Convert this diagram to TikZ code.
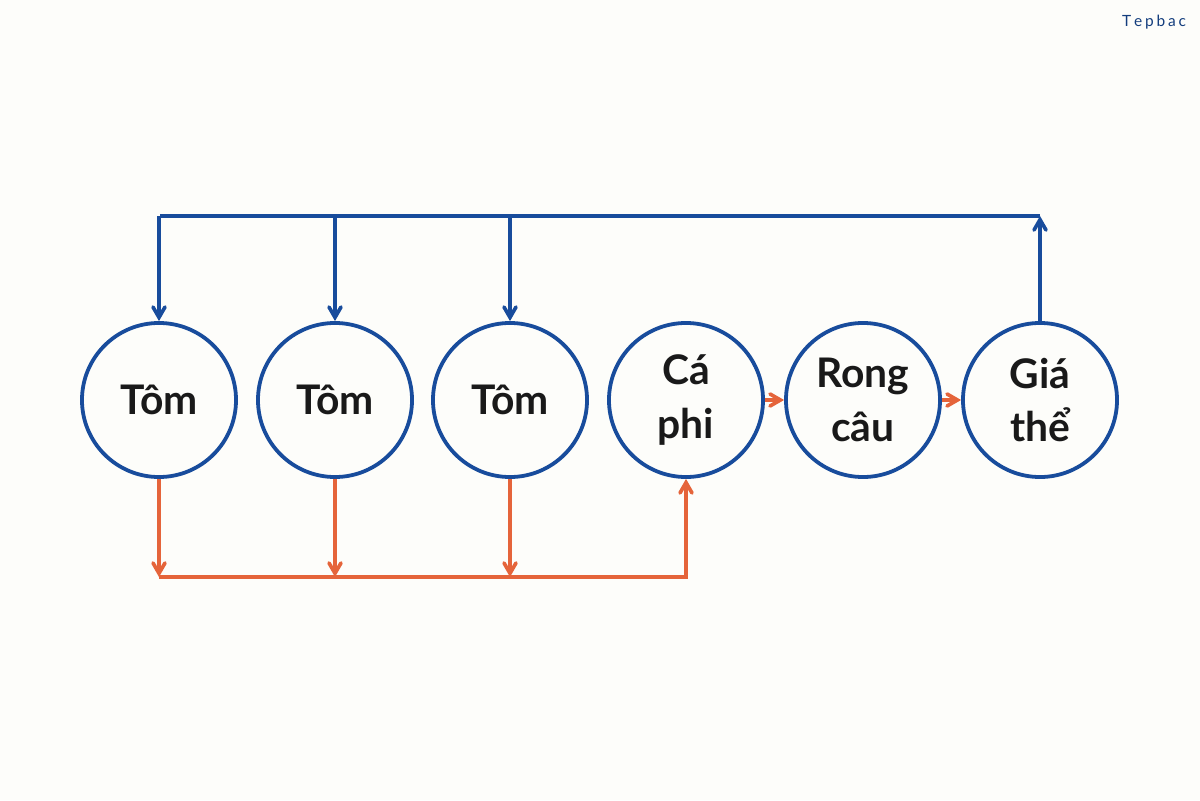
\documentclass[tikz,border=0pt]{standalone}
\usepackage{fontspec}
\setmainfont{Lato}
\usetikzlibrary{calc}
\usetikzlibrary{arrows}
\usetikzlibrary{backgrounds}

\definecolor{chainblue}{RGB}{24,76,156}
\definecolor{feedorange}{RGB}{229,100,58}
\definecolor{paper}{RGB}{253,253,250}

\tikzset{
 pond/.style={circle, draw=chainblue, line width=2.7pt, minimum size=3.85cm, inner sep=0,
   align=center, font=\bfseries\fontsize{29}{38}\selectfont, text=black!90},
 blueline/.style={chainblue, line width=2.6pt},
 orangeline/.style={feedorange, line width=2.6pt}
}

\begin{document}
\begin{tikzpicture}[x=0.025cm, y=-0.025cm, >=angle 60]
\fill[paper] (0,0) rectangle (1200,800);
\useasboundingbox (0,0) rectangle (1200,800);
\node[chainblue!80!black, font=\fontsize{11}{12}\selectfont] (logo) at (1154,22) {T\kern2pt e\kern2pt p\kern2pt b\kern2pt a\kern2pt c};

\node[pond] (tom1) at (159,400) {Tôm};
\node[pond] (tom2) at (335,400) {Tôm};
\node[pond] (tom3) at (510,400) {Tôm};
\node[pond] (ca)   at (686,400) {Cá\\phi};
\node[pond] (rong) at (863,400) {Rong\\câu};
\node[pond] (gia)  at (1040,400) {Giá\\thể};

\coordinate (topL) at (160,216);
\coordinate (botL) at (157,577);

% blue return line on top
\draw[blueline, ->] (gia.north) -- (gia.north |- topL);
\draw[blueline] (topL) -- (gia.north |- topL);
\foreach \n in {tom1,tom2,tom3} {
 \draw[blueline, ->] (\n.north |- topL) -- (\n.north);
}

% orange feed line below
\foreach \n in {tom1,tom2,tom3} {
 \draw[orangeline, ->] (\n.south) -- (\n.south |- botL);
}
\draw[orangeline, ->] (tom1.south |- botL) -- (ca.south |- botL) -- (ca.south);
\draw[orangeline, ->] (ca) -- (rong);
\draw[orangeline, ->] (rong) -- (gia);
\end{tikzpicture}
\end{document}
